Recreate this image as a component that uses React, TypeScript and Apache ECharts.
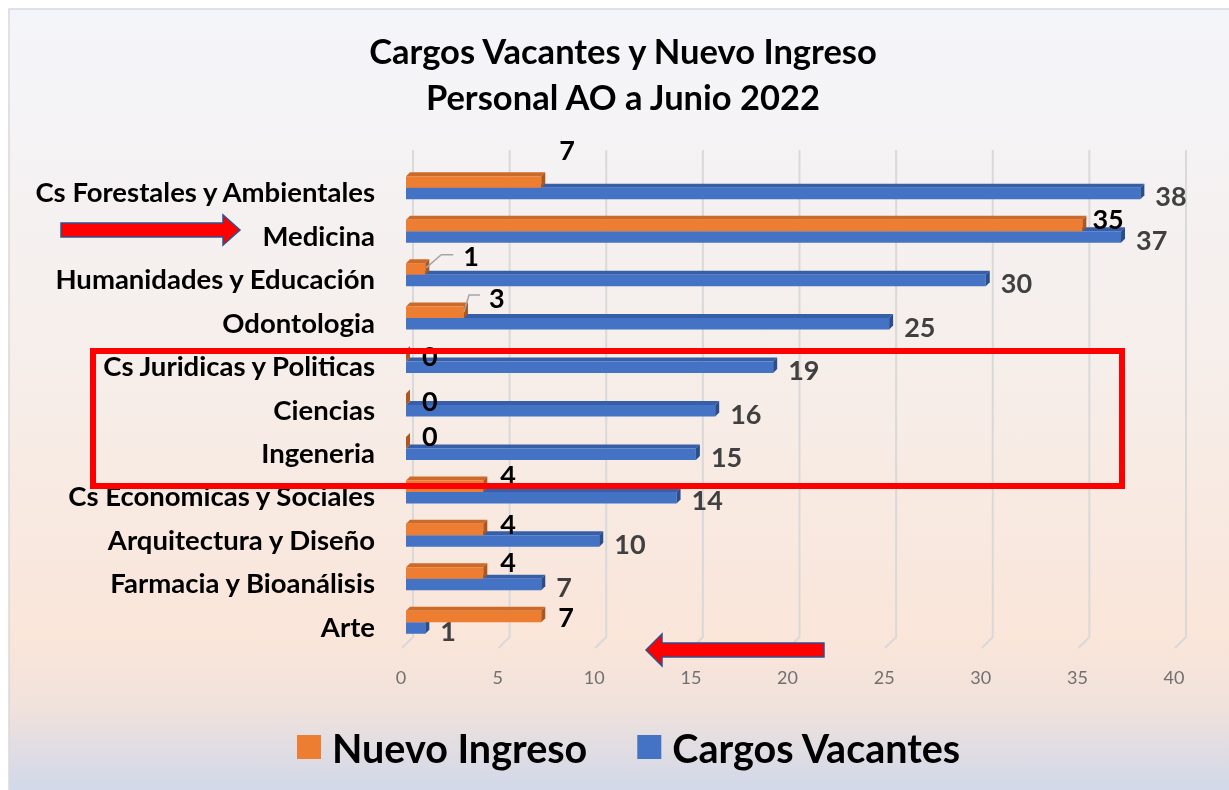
import React, { useEffect, useRef } from "react";
import * as echarts from "echarts";

// ---------- data ----------
const categories = [
  "Cs Forestales y Ambientales",
  "Medicina",
  "Humanidades y Educación",
  "Odontologia",
  "Cs Juridicas y Politicas",
  "Ciencias",
  "Ingeneria",
  "Cs Economicas y Sociales",
  "Arquitectura y Diseño",
  "Farmacia y Bioanálisis",
  "Arte",
];
const nuevoIngreso = [7, 35, 1, 3, 0, 0, 0, 4, 4, 4, 7];
const cargosVacantes = [38, 37, 30, 25, 19, 16, 15, 14, 10, 7, 1];
const xTicks = [0, 5, 10, 15, 20, 25, 30, 35, 40];
const seriesNames = ["Nuevo Ingreso", "Cargos Vacantes"];
const titleLines = ["Cargos Vacantes y Nuevo Ingreso", "Personal AO a Junio 2022"];

// ---------- styling ----------
const FONT = "Lato, 'Open Sans', sans-serif";
const DEPTH = 4;
const ORANGE = { front: "#ED7D31", top: "#CC6A2A", side: "#AE5620" };
const BLUE = { front: "#4472C4", top: "#365FA8", side: "#2A4D8C" };

// label placement for the orange value labels (dx from bar end, dy from band centre)
const orangeLabelNudge: [number, number][] = [
  [18, -42], [10, -17], [38, -23], [25, -25], [16, -10], [16, -9],
  [16, -17], [17, -21], [17, -16], [17, -21], [17, -10],
];
const orangeLeaders: Record<number, [number, number][]> = {
  2: [[1, -11], [16, -24], [28, -24]],
  3: [[0, -10], [5, -27], [16, -27]],
};

function makeBarRenderer(kind: "o" | "b") {
  return (params: any, api: any) => {
    const v = api.value(0);
    const i = api.value(1);
    const base = api.coord([0, i]);
    const x0 = base[0];
    const c = base[1];
    const x1 = api.coord([v, i])[0];
    const y0 = kind === "o" ? c - 15.5 : c - 4;
    const y1 = kind === "o" ? c - 4 : c + 7.5;
    const col = kind === "o" ? ORANGE : BLUE;
    const children: any[] = [
      {
        type: "polygon",
        shape: { points: [[x0, y0], [x1, y0], [x1 + DEPTH, y0 - DEPTH], [x0 + DEPTH, y0 - DEPTH]] },
        style: { fill: col.top },
      },
      {
        type: "rect",
        shape: { x: x0, y: y0, width: x1 - x0, height: y1 - y0 },
        style: { fill: col.front },
      },
      {
        type: "polygon",
        shape: { points: [[x1, y0], [x1 + DEPTH, y0 - DEPTH], [x1 + DEPTH, y1 - DEPTH], [x1, y1]] },
        style: { fill: col.side },
      },
    ];
    if (kind === "o") {
      const [dx, dy] = orangeLabelNudge[i] || [16, -15];
      const leader = orangeLeaders[i];
      if (leader) {
        children.push({
          type: "polyline",
          shape: { points: leader.map(([px, py]) => [x1 + px, c + py]) },
          style: { stroke: "#A6A6A6", lineWidth: 1.5, fill: "none" },
        });
      }
      children.push({
        type: "text",
        x: x1 + dx,
        y: c + dy,
        style: {
          text: String(v),
          fill: "#000000",
          fontFamily: FONT,
          fontWeight: "bold",
          fontSize: 27,
          align: "left",
          verticalAlign: "middle",
        },
      });
    } else {
      children.push({
        type: "text",
        x: x1 + 15,
        y: c + 4,
        style: {
          text: String(v),
          fill: "#404040",
          fontFamily: FONT,
          fontWeight: "bold",
          fontSize: 27,
          align: "left",
          verticalAlign: "middle",
        },
      });
    }
    return { type: "group", children };
  };
}

function gridRenderer(params: any, api: any) {
  const v = api.value(0);
  const x = api.coord([v, 0])[0];
  const bottom = params.coordSys.y + params.coordSys.height;
  return {
    type: "polyline",
    shape: { points: [[x + 7, 150], [x + 7, bottom - 11], [x - 4, bottom]] },
    style: { stroke: "#D9D9D9", lineWidth: 2, fill: "none" },
  };
}

export default function App() {
  const ref = useRef<HTMLDivElement>(null);
  useEffect(() => {
    if (!ref.current) return;
    const chart = echarts.init(ref.current, undefined, { renderer: "svg" });
    const option: any = {
      animation: false,
      title: {
        text: titleLines.join("\n"),
        left: 623,
        textAlign: "center",
        top: 27,
        padding: 0,
        textStyle: {
          fontFamily: FONT,
          fontWeight: "bold",
          fontSize: 34.5,
          lineHeight: 46,
          color: "#000000",
        },
      },
      graphic: [
        {
          type: "rect",
          z: -10,
          silent: true,
          shape: { x: 9, y: 9, width: 1230, height: 790 },
          style: {
            stroke: "#D9D9D9",
            lineWidth: 1.5,
            fill: new echarts.graphic.LinearGradient(0, 0, 0, 1, [
              { offset: 0, color: "#F4F5FA" },
              { offset: 0.45, color: "#F6EEEA" },
              { offset: 0.8, color: "#FAE5D9" },
              { offset: 0.88, color: "#F1E2DC" },
              { offset: 1, color: "#CED7EA" },
            ]),
          },
        },
        {
          type: "rect",
          z: 100,
          silent: true,
          shape: { x: 93, y: 351, width: 1029, height: 135 },
          style: { stroke: "#FF0000", lineWidth: 6, fill: "none" },
        },
        {
          type: "polygon",
          z: 100,
          silent: true,
          shape: {
            points: [[61, 223], [223, 223], [223, 215], [240, 230], [223, 245], [223, 237], [61, 237]],
          },
          style: { fill: "#FF0000", stroke: "#2F528F", lineWidth: 1.5 },
        },
        {
          type: "polygon",
          z: 100,
          silent: true,
          shape: {
            points: [[824, 643], [662, 643], [662, 634], [646, 650], [662, 666], [662, 657], [824, 657]],
          },
          style: { fill: "#FF0000", stroke: "#2F528F", lineWidth: 1.5 },
        },
      ],
      legend: {
        data: seriesNames,
        left: 292,
        top: 722,
        icon: "rect",
        itemWidth: 24,
        itemHeight: 24,
        itemGap: 50,
        textStyle: {
          fontFamily: FONT,
          fontWeight: "bold",
          fontSize: 39.5,
          lineHeight: 40,
          color: "#000000",
          padding: [0, 0, 0, 6],
        },
      },
      grid: { left: 406, right: 50, top: 170, bottom: 142, containLabel: false },
      xAxis: {
        type: "value",
        min: 0,
        max: 40,
        interval: 5,
        axisLine: { show: false },
        axisTick: { show: false },
        splitLine: { show: false },
        axisLabel: {
          color: "#707070",
          fontFamily: FONT,
          fontSize: 18,
          margin: 20,
          padding: [0, 10, 0, 0],
        },
      },
      yAxis: {
        type: "category",
        inverse: true,
        data: categories,
        axisLine: { show: false },
        axisTick: { show: false },
        splitLine: { show: false },
        axisLabel: {
          color: "#000000",
          fontFamily: FONT,
          fontWeight: "bold",
          fontSize: 27.5,
          margin: 31,
        },
      },
      series: [
        {
          type: "custom",
          name: "grid",
          z: 1,
          silent: true,
          renderItem: gridRenderer,
          encode: { x: 0 },
          data: xTicks.map((t) => [t, 0]),
        },
        {
          type: "custom",
          name: seriesNames[1],
          z: 2,
          renderItem: makeBarRenderer("b"),
          encode: { x: 0, y: 1 },
          itemStyle: { color: BLUE.front },
          data: cargosVacantes.map((v, i) => [v, i]),
        },
        {
          type: "custom",
          name: seriesNames[0],
          z: 3,
          renderItem: makeBarRenderer("o"),
          encode: { x: 0, y: 1 },
          itemStyle: { color: ORANGE.front },
          data: nuevoIngreso.map((v, i) => [v, i]),
        },
      ],
    };
    chart.setOption(option);
    return () => chart.dispose();
  }, []);
  return (
    <div
      ref={ref}
      style={{ position: "fixed", left: 0, top: 0, width: 1229, height: 790 }}
    />
  );
}
